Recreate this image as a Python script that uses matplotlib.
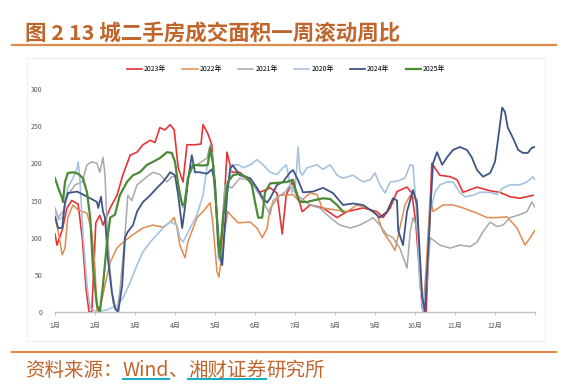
import numpy as np
import matplotlib
matplotlib.use("Agg")
from matplotlib import pyplot as plt
from matplotlib.lines import Line2D
from matplotlib.patches import Rectangle

plt.rcParams['font.family'] = ['Noto Sans CJK SC', 'DejaVu Sans']

# x is in months from Jan 1 (0 = 1月 start, 12 = year end)
red_x = [0, 0.05, 0.18, 0.3, 0.42, 0.58, 0.68, 0.78, 0.85, 0.92, 1.02, 1.12, 1.2, 1.38, 1.55, 1.7, 1.88,
         2.05, 2.2, 2.38, 2.5, 2.62, 2.75, 2.88, 2.98, 3.08, 3.2, 3.3, 3.5, 3.65, 3.7, 3.82, 3.92, 4.02,
         4.1, 4.18, 4.3, 4.42, 4.62, 4.88, 5.12, 5.38, 5.55, 5.68, 5.78, 5.92, 6.05, 6.18, 6.38, 6.7,
         7.05, 7.3, 7.7, 8.05, 8.2, 8.38, 8.55, 8.8, 8.92, 9.02, 9.18, 9.28, 9.42, 9.62, 9.88, 10.05,
         10.2, 10.55, 10.88, 11.12, 11.38, 11.62, 11.95]
red_y = [105, 90, 110, 140, 150, 145, 100, 30, 0, 0, 120, 130, 117, 140, 157, 185, 211,
         215, 225, 231, 228, 248, 245, 252, 245, 194, 175, 225, 225, 226, 252, 240, 225, 150,
         80, 100, 215, 188, 188, 175, 161, 167, 160, 105, 157, 175, 160, 135, 144, 140,
         127, 135, 140, 135, 127, 140, 162, 168, 160, 120, 5, 0, 200, 184, 182, 178,
         161, 168, 163, 161, 155, 153, 157]

orange_x = [0, 0.08, 0.18, 0.25, 0.32, 0.45, 0.58, 0.8, 0.92, 1.0, 1.05, 1.12, 1.25, 1.38, 1.55,
            1.7, 1.95, 2.2, 2.45, 2.7, 2.88, 2.98, 3.05, 3.12, 3.25, 3.32, 3.55, 3.7, 3.88, 3.95,
            4.05, 4.1, 4.2, 4.32, 4.45, 4.58, 4.88, 5.05, 5.18, 5.3, 5.38, 5.62, 5.95, 6.12, 6.38,
            6.55, 6.68, 7.05, 7.3, 7.55, 7.8, 8.05, 8.2, 8.38, 8.5, 8.62, 8.75, 8.88, 9.05, 9.12,
            9.2, 9.28, 9.38, 9.45, 9.7, 9.95, 10.2, 10.55, 10.8, 11.05, 11.3, 11.55, 11.75, 11.88, 12]
orange_y = [128, 108, 77, 86, 127, 144, 137, 133, 108, 59, 0, 3, 36, 67, 86,
            94, 104, 113, 117, 114, 121, 127, 113, 90, 73, 94, 127, 135, 147, 117,
            54, 47, 94, 135, 127, 120, 121, 113, 100, 112, 140, 157, 158, 148, 160,
            158, 140, 137, 135, 144, 140, 131, 108, 94, 83, 113, 144, 157, 152, 60,
            0, 60, 157, 135, 144, 144, 140, 133, 127, 127, 128, 113, 90, 100, 110]

gray_x = [0, 0.08, 0.2, 0.32, 0.5, 0.68, 0.8, 0.92, 1.05, 1.12, 1.2, 1.25, 1.3, 1.38, 1.45, 1.55,
          1.62, 1.75, 1.82, 1.92, 2.05, 2.3, 2.45, 2.62, 2.8, 2.92, 3.05, 3.12, 3.2, 3.38, 3.55,
          3.8, 3.88, 3.95, 4.05, 4.12, 4.25, 4.42, 4.62, 4.88, 5.12, 5.38, 5.45, 5.62, 5.75, 5.88,
          6.05, 6.38, 6.62, 6.88, 7.12, 7.38, 7.62, 7.8, 7.95, 8.12, 8.3, 8.45, 8.62, 8.75, 8.8,
          8.88, 8.95, 9.05, 9.15, 9.2, 9.28, 9.38, 9.62, 9.88, 10.12, 10.38, 10.55, 10.7, 10.88,
          11.05, 11.2, 11.38, 11.62, 11.8, 11.92, 12]
gray_y = [140, 127, 135, 157, 171, 175, 198, 202, 200, 188, 208, 185, 117, 54, 13, 0,
          27, 104, 157, 150, 171, 182, 188, 185, 175, 182, 182, 157, 140, 194, 198,
          207, 225, 200, 127, 73, 171, 167, 180, 177, 157, 131, 150, 157, 161, 171,
          157, 144, 140, 127, 117, 113, 117, 122, 127, 117, 104, 100, 86, 67, 59,
          108, 127, 114, 40, 0, 30, 100, 90, 86, 90, 88, 94, 108, 121,
          115, 117, 127, 131, 135, 148, 141]

lblue_x = [0, 0.08, 0.2, 0.32, 0.45, 0.55, 0.58, 0.62, 0.7, 0.8, 0.88, 1.05, 1.3, 1.55, 1.7, 1.88,
           2.05, 2.2, 2.38, 2.55, 2.7, 2.88, 3.05, 3.12, 3.2, 3.38, 3.55, 3.7, 3.82, 3.92, 4.0,
           4.08, 4.18, 4.3, 4.42, 4.6, 4.7, 4.88, 5.05, 5.2, 5.38, 5.55, 5.7, 5.78, 5.92, 6.0,
           6.08, 6.12, 6.18, 6.3, 6.55, 6.7, 6.88, 7.05, 7.2, 7.45, 7.7, 7.88, 8.0, 8.12, 8.25,
           8.38, 8.55, 8.75, 8.88, 8.95, 9.05, 9.12, 9.2, 9.3, 9.38, 9.5, 9.62, 9.8, 9.95, 10.12,
           10.25, 10.45, 10.62, 10.88, 11.05, 11.2, 11.38, 11.62, 11.8, 11.95, 12]
lblue_y = [135, 124, 128, 167, 180, 193, 202, 180, 104, 36, 5, 0, 3, 9, 19, 40,
           63, 81, 94, 104, 113, 121, 117, 100, 94, 113, 131, 157, 202, 215, 180,
           73, 63, 157, 198, 198, 194, 198, 205, 198, 188, 185, 194, 198, 161, 165,
           222, 190, 184, 194, 198, 192, 198, 184, 180, 184, 175, 178, 187, 171, 160,
           175, 176, 180, 198, 197, 127, 36, 3, 40, 135, 161, 171, 175, 175, 161,
           155, 157, 161, 161, 158, 167, 171, 171, 175, 182, 178]

dblue_x = [0, 0.08, 0.18, 0.25, 0.32, 0.55, 0.7, 0.88, 1.05, 1.08, 1.15, 1.2, 1.25, 1.32, 1.42, 1.5,
           1.58, 1.68, 1.75, 1.82, 1.95, 2.05, 2.2, 2.38, 2.55, 2.7, 2.88, 3.0, 3.08, 3.18, 3.25,
           3.32, 3.42, 3.5, 3.62, 3.8, 3.92, 4.0, 4.08, 4.18, 4.3, 4.38, 4.45, 4.62, 4.88, 5.05,
           5.2, 5.3, 5.38, 5.55, 5.7, 5.88, 5.95, 6.08, 6.2, 6.45, 6.7, 6.95, 7.2, 7.45, 7.7,
           7.95, 8.12, 8.3, 8.45, 8.55, 8.58, 8.7, 8.8, 8.95, 9.05, 9.18, 9.25, 9.38, 9.45, 9.55,
           9.68, 9.8, 9.95, 10.12, 10.3, 10.42, 10.55, 10.7, 10.88, 11.0, 11.08, 11.18, 11.25,
           11.32, 11.45, 11.58, 11.7, 11.82, 11.92, 12]
dblue_y = [128, 113, 113, 148, 160, 162, 158, 153, 148, 140, 155, 135, 127, 73, 27, 5,
           0, 36, 100, 108, 117, 135, 148, 157, 167, 175, 188, 184, 157, 113, 141,
           175, 211, 188, 188, 186, 192, 175, 90, 63, 157, 194, 197, 184, 180, 167,
           153, 147, 153, 171, 175, 188, 191, 177, 161, 162, 167, 160, 144, 146, 144,
           135, 127, 135, 153, 150, 110, 90, 135, 164, 145, 20, 0, 133, 200, 215,
           198, 208, 218, 222, 218, 208, 191, 182, 187, 202, 234, 275, 269,
           248, 234, 218, 214, 214, 221, 222]

green_x = [0, 0.08, 0.18, 0.2, 0.25, 0.32, 0.45, 0.58, 0.7, 0.8, 0.88, 0.95, 1.05, 1.12, 1.2, 1.3,
           1.38, 1.5, 1.62, 1.8, 1.95, 2.12, 2.3, 2.45, 2.62, 2.8, 2.92, 3.0, 3.08, 3.18, 3.25,
           3.32, 3.45, 3.7, 3.82, 3.88, 3.95, 4.05, 4.12, 4.2, 4.32, 4.45, 4.62, 4.8, 4.92, 5.0,
           5.08, 5.18, 5.25, 5.38, 5.62, 5.8, 5.95, 6.05, 6.12, 6.3, 6.45, 6.7, 6.88, 7.05, 7.2]
green_y = [180, 167, 153, 148, 175, 187, 188, 186, 180, 161, 127, 59, 9, 0, 36, 94,
           127, 131, 157, 175, 184, 188, 198, 202, 207, 215, 214, 202, 171, 144, 146,
           180, 198, 197, 198, 221, 200, 127, 73, 127, 175, 184, 186, 181, 171, 148,
           127, 127, 161, 173, 174, 175, 178, 157, 148, 148, 150, 153, 152, 144, 135]

month_labels = ['1月', '2月', '3月', '4月', '5月', '6月', '7月', '8月', '9月', '10月', '11月', '12月']
yticks = [0, 50, 100, 150, 200, 250, 300]

series = [
    ('2023年', red_x, red_y, '#E63338', 1.2),
    ('2022年', orange_x, orange_y, '#E08A50', 1.1),
    ('2021年', gray_x, gray_y, '#A8A8A8', 1.1),
    ('2020年', lblue_x, lblue_y, '#A7C3DF', 1.2),
    ('2024年', dblue_x, dblue_y, '#3E5585', 1.3),
    ('2025年', green_x, green_y, '#4B8A36', 1.6),
]

W, H = 567, 388
fig = plt.figure(figsize=(W / 100, H / 100), dpi=100)
fig.patch.set_facecolor('white')

# faint panel border
fig.patches.append(Rectangle((27 / W, 1 - 341 / H), 518 / W, 283 / H, transform=fig.transFigure,
                             facecolor='none', edgecolor='#EDEDED', lw=0.6))

ax = fig.add_axes([55 / W, 1 - 312 / H, 480 / W, 223 / H])
for name, xs, ys, c, lw in series:
    ax.plot(xs, ys, color=c, lw=lw, label=name, solid_joinstyle='round')

ax.set_xlim(0, 12)
ax.set_ylim(0, 300)
ax.set_yticks(yticks)
ax.set_yticklabels([str(v) for v in yticks])
ax.set_xticks(range(13))
ax.set_xticklabels(month_labels + [''])
ax.tick_params(axis='y', length=0, labelsize=5, labelcolor='#595959', pad=9)
ax.tick_params(axis='x', length=2.2, width=0.7, color='#BFBFBF', labelsize=5,
               labelcolor='#595959', pad=5)
for s in ['left', 'top', 'right']:
    ax.spines[s].set_visible(False)
ax.spines['bottom'].set_color('#BFBFBF')
ax.spines['bottom'].set_linewidth(1.0)

fig.legend(loc='center', bbox_to_anchor=(286 / W, 1 - 69 / H), ncol=6, frameon=False,
           fontsize=5, handlelength=2.2, handletextpad=0.3, columnspacing=2.3)

# title and rules
title_color = '#C0652B'
fig.text(25 / W, 1 - 34 / H, '图 2 13 城二手房成交面积一周滚动周比', fontsize=15.5,
         fontweight='bold', color=title_color, va='center', ha='left')
for yy in [45, 352]:
    fig.add_artist(Line2D([12 / W, 556 / W], [1 - yy / H, 1 - yy / H], transform=fig.transFigure,
                          color='#E08B4A', lw=1.6))

# source line with underlined parts
renderer = fig.canvas.get_renderer()
parts = [('资料来源：', False), ('Wind', True), ('、', False), ('湘财证券', True), ('研究所', False)]
x0 = 25
for txt, ul in parts:
    t = fig.text(x0 / W, 1 - 370 / H, txt, fontsize=14, color=title_color, va='center', ha='left')
    bb = t.get_window_extent(renderer)
    if ul:
        fig.add_artist(Line2D([bb.x0 / W, bb.x1 / W], [1 - 379 / H, 1 - 379 / H],
                              transform=fig.transFigure, color='#1AAFC4', lw=1.5))
    x0 = bb.x1

fig.savefig('out.png', dpi=100)
